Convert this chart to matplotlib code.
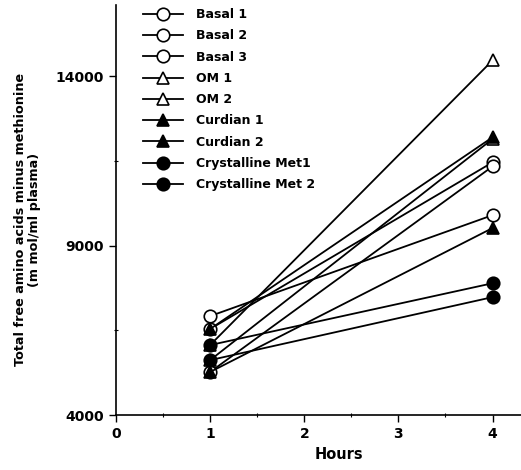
import matplotlib.pyplot as plt

plt.rcParams['font.family'] = ['DejaVu Sans']
plt.rcParams['font.weight'] = 'bold'

hours = [1, 4]
labels = ['Basal 1', 'Basal 2', 'Basal 3', 'OM 1', 'OM 2',
          'Curdian 1', 'Curdian 2', 'Crystalline Met1', 'Crystalline Met 2']
basal_1 = [6920, 9900]
basal_2 = [6540, 11460]
basal_3 = [5270, 11340]
om_1 = [6065, 14470]
om_2 = [5620, 12150]
curdian_1 = [6540, 12200]
curdian_2 = [5270, 9520]
met_1 = [6065, 7890]
met_2 = [5620, 7480]

y_ticks = [4000, 9000, 14000]
y_minor = [6500, 11500]
x_ticks = [0, 1, 2, 3, 4]
x_minor = [0.5, 1.5, 2.5, 3.5]

series = [basal_1, basal_2, basal_3, om_1, om_2, curdian_1, curdian_2, met_1, met_2]
markers = ['o', 'o', 'o', '^', '^', '^', '^', 'o', 'o']
fills = ['white'] * 5 + ['black'] * 4

fig = plt.figure(figsize=(5.21, 4.70), dpi=100)
ax = fig.add_axes([0.2226, 0.117, 0.777, 0.872])

for vals, lab, m, fc in zip(series, labels, markers, fills):
    ax.plot(hours, vals, color='black', lw=1.3, marker=m, markersize=9,
            markerfacecolor=fc, markeredgecolor='black', markeredgewidth=1.2,
            label=lab, clip_on=False)

ax.set_xlim(0, 4.3)
ax.set_ylim(4000, 16100)
ax.set_xticks(x_ticks)
ax.set_xticks(x_minor, minor=True)
ax.set_yticks(y_ticks)
ax.set_yticks(y_minor, minor=True)
ax.tick_params(which='major', direction='out', length=5, width=1, labelsize=10)
ax.tick_params(which='minor', direction='inout', length=3, width=0.8)
ax.spines['top'].set_visible(False)
ax.spines['right'].set_visible(False)
ax.spines['left'].set_linewidth(1.2)
ax.spines['bottom'].set_linewidth(1.2)

ax.set_xlabel('Hours', fontsize=10.5, fontweight='bold')
ax.xaxis.set_label_coords(0.55, -0.078)
ax.set_ylabel('Total free amino acids minus methionine\n(m mol/ml plasma)',
              fontsize=9.2, fontweight='bold', linespacing=1.1)
ax.yaxis.set_label_coords(-0.185, 0.476)

ax.legend(loc='upper left', bbox_to_anchor=(0.04, 1.02), frameon=False,
          handlelength=3.2, labelspacing=0.66, handletextpad=1.0,
          prop={'weight': 'bold', 'size': 9})

fig.savefig('out.png', dpi=100)
